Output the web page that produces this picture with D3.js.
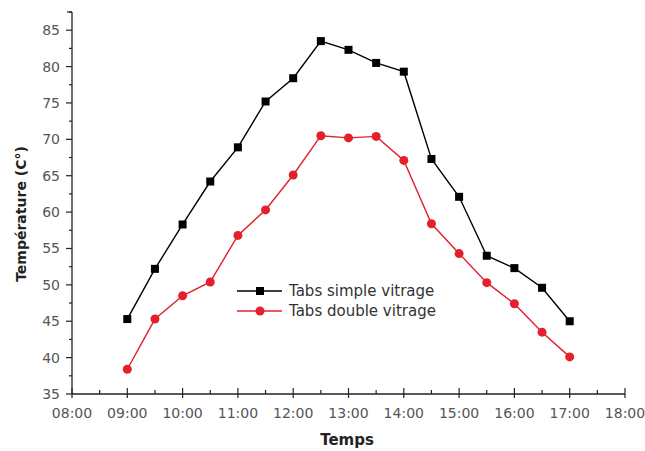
<!DOCTYPE html>
<html>
<head>
<meta charset="utf-8">
<script src="https://cdn.jsdelivr.net/npm/d3@7"></script>
<style>
    body { margin: 0; background: #fff; }
    svg { font-family: "DejaVu Sans", Verdana, sans-serif; }
</style>
</head>
<body>
<svg id="chart" width="645" height="451"></svg>
<script>
// heures de mesure (en heures décimales)
var hours = [9, 9.5, 10, 10.5, 11, 11.5, 12, 12.5, 13, 13.5, 14, 14.5, 15, 15.5, 16, 16.5, 17];
// Tabs simple vitrage
var simpleVitrage = [45.3, 52.2, 58.3, 64.2, 68.9, 75.2, 78.4, 83.5, 82.3, 80.5, 79.3, 67.3, 62.1, 54.0, 52.3, 49.6, 45.0];
// Tabs double vitrage
var doubleVitrage = [38.4, 45.3, 48.5, 50.4, 56.8, 60.3, 65.1, 70.5, 70.2, 70.4, 67.1, 58.4, 54.3, 50.3, 47.4, 43.5, 40.1];
var xTicks = [8, 9, 10, 11, 12, 13, 14, 15, 16, 17, 18];
var yTicks = [35, 40, 45, 50, 55, 60, 65, 70, 75, 80, 85];
var seriesNames = ["Tabs simple vitrage", "Tabs double vitrage"];

var svg = d3.select("#chart");
var mLeft = 72, mRight = 625, mTop = 12, mBottom = 394;

var x = d3.scaleLinear().domain([8, 18]).range([mLeft, mRight]);
var y = d3.scaleLinear().domain([35, 87.5]).range([mBottom, mTop]);

function fmtHour(h) {
    return (h < 10 ? "0" : "") + h + ":00";
}

//axe des x
var xAxis = svg.append("g").attr("transform", "translate(0," + mBottom + ")");
xAxis.append("line").attr("x1", mLeft).attr("x2", mRight).attr("stroke", "#222").attr("stroke-width", 1.3);
xAxis.selectAll(".major").data(xTicks).enter().append("line")
    .attr("x1", function (d) { return x(d); })
    .attr("x2", function (d) { return x(d); })
    .attr("y1", -6).attr("y2", 4)
    .attr("stroke", "#222").attr("stroke-width", 1.2);
xAxis.selectAll(".minor").data(xTicks.slice(0, -1)).enter().append("line")
    .attr("x1", function (d) { return x(d + 0.5); })
    .attr("x2", function (d) { return x(d + 0.5); })
    .attr("y1", -4).attr("y2", 0)
    .attr("stroke", "#222").attr("stroke-width", 1.2);
xAxis.selectAll("text").data(xTicks).enter().append("text")
    .attr("x", function (d) { return x(d); })
    .attr("y", 24)
    .attr("text-anchor", "middle")
    .attr("font-size", 14)
    .attr("fill", "#555")
    .text(fmtHour);

//axe des y
var yAxis = svg.append("g").attr("transform", "translate(" + mLeft + ",0)");
yAxis.append("line").attr("y1", mTop).attr("y2", mBottom).attr("stroke", "#222").attr("stroke-width", 1.3);
yAxis.append("line").attr("x1", -5).attr("x2", 0).attr("y1", mTop).attr("y2", mTop)
    .attr("stroke", "#222").attr("stroke-width", 1.2);
yAxis.selectAll(".major").data(yTicks).enter().append("line")
    .attr("x1", -6).attr("x2", 0)
    .attr("y1", function (d) { return y(d); })
    .attr("y2", function (d) { return y(d); })
    .attr("stroke", "#222").attr("stroke-width", 1.2);
yAxis.selectAll(".minor").data(yTicks).enter().append("line")
    .attr("x1", -3).attr("x2", 0)
    .attr("y1", function (d) { return y(d + 2.5); })
    .attr("y2", function (d) { return y(d + 2.5); })
    .attr("stroke", "#222").attr("stroke-width", 1.2);
yAxis.selectAll("text").data(yTicks).enter().append("text")
    .attr("x", -12)
    .attr("y", function (d) { return y(d); })
    .attr("dy", 5)
    .attr("text-anchor", "end")
    .attr("font-size", 14)
    .attr("fill", "#555")
    .text(function (d) { return d; });

//titres
svg.append("text")
    .attr("x", 347).attr("y", 445)
    .attr("text-anchor", "middle")
    .attr("font-size", 15).attr("font-weight", "bold").attr("fill", "#222")
    .text("Temps");
svg.append("text")
    .attr("transform", "translate(26,214) rotate(-90)")
    .attr("text-anchor", "middle")
    .attr("font-size", 14).attr("font-weight", "bold").attr("fill", "#222")
    .text("Température (C°)");

//courbes
var line = d3.line()
    .x(function (d) { return x(d[0]); })
    .y(function (d) { return y(d[1]); });

function drawSeries(values, color, shape) {
    var pts = hours.map(function (h, i) { return [h, values[i]]; });
    svg.append("path").datum(pts)
        .attr("d", line)
        .attr("fill", "none")
        .attr("stroke", color)
        .attr("stroke-width", 1.4);
    var g = svg.append("g");
    if (shape === "square") {
        g.selectAll("rect").data(pts).enter().append("rect")
            .attr("x", function (d) { return x(d[0]) - 4; })
            .attr("y", function (d) { return y(d[1]) - 4; })
            .attr("width", 8).attr("height", 8)
            .attr("fill", color);
    } else {
        g.selectAll("circle").data(pts).enter().append("circle")
            .attr("cx", function (d) { return x(d[0]); })
            .attr("cy", function (d) { return y(d[1]); })
            .attr("r", 4.5)
            .attr("fill", color);
    }
}
drawSeries(simpleVitrage, "#000", "square");
drawSeries(doubleVitrage, "#e3202b", "circle");

//légende
var legend = svg.append("g");
var rows = [
    { name: seriesNames[0], color: "#000", shape: "square", y: 291 },
    { name: seriesNames[1], color: "#e3202b", shape: "circle", y: 311 }
];
rows.forEach(function (r) {
    legend.append("line").attr("x1", 237).attr("x2", 282).attr("y1", r.y).attr("y2", r.y)
        .attr("stroke", r.color).attr("stroke-width", 1.4);
    if (r.shape === "square") {
        legend.append("rect").attr("x", 256).attr("y", r.y - 4).attr("width", 8).attr("height", 8).attr("fill", r.color);
    } else {
        legend.append("circle").attr("cx", 260).attr("cy", r.y).attr("r", 4.5).attr("fill", r.color);
    }
    legend.append("text").attr("x", 289).attr("y", r.y + 5)
        .attr("font-size", 15).attr("fill", "#333")
        .text(r.name);
});
</script>
</body>
</html>
